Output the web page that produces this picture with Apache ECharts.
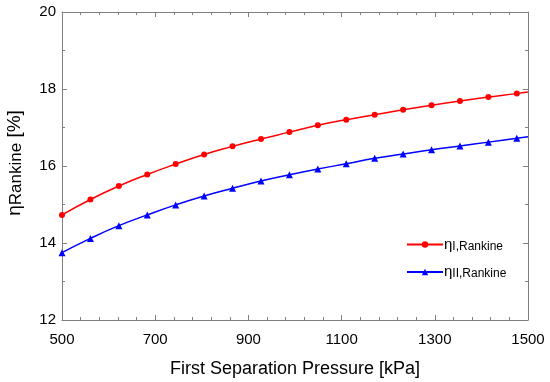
<!DOCTYPE html>
<html><head><meta charset="utf-8">
<script src="https://cdn.jsdelivr.net/npm/echarts@6/dist/echarts.min.js"></script>
<style>html,body{margin:0;padding:0;background:#fff}#c{width:550px;height:382px}</style>
</head><body><div id="c"></div>
<script>
var pressure = [500,561,622,683,744,805,866,927,988,1049,1110,1171,1232,1293,1354,1415,1476,1500];
var etaI  = [14.73,15.13,15.48,15.78,16.05,16.30,16.51,16.70,16.88,17.06,17.20,17.33,17.46,17.58,17.69,17.79,17.88,17.92];
var etaII = [13.75,14.12,14.45,14.73,14.99,15.22,15.42,15.61,15.77,15.92,16.06,16.20,16.31,16.42,16.52,16.62,16.72,16.76];
var xTicks = [500,700,900,1100,1300,1500];
var yTicks = [12,14,16,18,20];

function mk(ys){
  return pressure.map(function(p,i){
    var d = {value:[p, ys[i]]};
    if (p === 1500) d.symbol = 'none';
    return d;
  });
}
var font = 'Arial, "Liberation Sans", sans-serif';
var axisGray = '#808080';
var chart = echarts.init(document.getElementById('c'), null, {renderer:'canvas'});
var baseX = {type:'value', min:xTicks[0], max:xTicks[xTicks.length-1], interval:200,
  axisLine:{lineStyle:{color:axisGray,width:1}}, splitLine:{show:false},
  axisTick:{inside:true,length:5,lineStyle:{color:axisGray}},
  minorTick:{show:true,splitNumber:5,length:3,lineStyle:{color:axisGray}}};
var baseY = {type:'value', min:yTicks[0], max:yTicks[yTicks.length-1], interval:2,
  axisLine:{show:true,lineStyle:{color:axisGray,width:1}}, splitLine:{show:false},
  axisTick:{inside:true,length:5,lineStyle:{color:axisGray}},
  minorTick:{show:true,splitNumber:2,length:3,lineStyle:{color:axisGray}}};
chart.setOption({
  animation:false,
  textStyle:{fontFamily:font},
  grid:{left:62,right:22,top:12,bottom:62,containLabel:false,outerBoundsMode:'none'},
  xAxis:[
    Object.assign({}, baseX, {position:'bottom',
      axisLabel:{color:'#000',fontSize:15,margin:12,fontFamily:font,formatter:function(v){return String(v);}},
      name:'First Separation Pressure [kPa]', nameLocation:'middle', nameGap:40,
      nameTextStyle:{color:'#000',fontSize:18,fontFamily:font}}),
    Object.assign({}, baseX, {position:'top', axisLabel:{show:false}})
  ],
  yAxis:[
    Object.assign({}, baseY, {position:'left',
      axisLabel:{color:'#000',fontSize:15,margin:6,fontFamily:font},
      name:'{e|η}{s|Rankine}{e| [%]}', nameLocation:'middle', nameGap:37, nameRotate:90,
      nameTextStyle:{color:'#000',fontFamily:font,padding:[0,0,0,6],
        rich:{e:{fontSize:19,color:'#000',fontFamily:font},s:{fontSize:17,color:'#000',fontFamily:font,padding:[4,0,0,0]}}}}),
    Object.assign({}, baseY, {position:'right', axisLabel:{show:false}})
  ],
  legend:{
    orient:'vertical', left:401, top:232, itemWidth:36, itemHeight:8, itemGap:12,
    data:['I','II'],
    formatter:function(n){return '{e|η}{s|'+n+',Rankine}';},
    textStyle:{color:'#000',padding:[0,0,0,-4],
      rich:{e:{fontSize:15,color:'#000',fontFamily:font},s:{fontSize:12,color:'#000',fontFamily:font,padding:[4,0,0,0]}}}
  },
  series:[
    {name:'I', type:'line', xAxisIndex:0, yAxisIndex:0, smooth:true, data:mk(etaI),
     symbol:'circle', symbolSize:6, lineStyle:{color:'#ff0000',width:1.5}, itemStyle:{color:'#ff0000'}},
    {name:'II', type:'line', xAxisIndex:0, yAxisIndex:0, smooth:true, data:mk(etaII),
     symbol:'triangle', symbolSize:7, lineStyle:{color:'#0000ff',width:1.5}, itemStyle:{color:'#0000ff'}}
  ]
});
</script></body></html>
